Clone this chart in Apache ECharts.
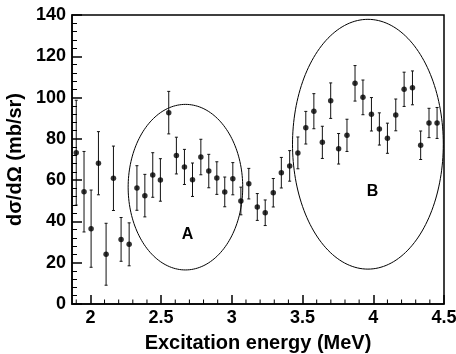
<!DOCTYPE html>
<html>
<head>
<meta charset="utf-8">
<script src="https://cdn.jsdelivr.net/npm/echarts@6/dist/echarts.min.js"></script>
<style>
  html, body { margin: 0; padding: 0; background: #fff; }
  .layer { position: absolute; left: 0; top: 0; width: 456px; height: 354px; }
  #frame { pointer-events: none; }
</style>
</head>
<body>
<div id="main" class="layer"></div>
<div id="frame" class="layer"></div>
<script>
  // excitation energy (MeV), one entry per measured bin
  var energy = [1.90, 1.955, 2.005, 2.057, 2.111, 2.163, 2.217, 2.274, 2.329, 2.385,
    2.441, 2.495, 2.554, 2.608, 2.665, 2.722, 2.781, 2.837, 2.894, 2.950,
    3.007, 3.064, 3.120, 3.180, 3.236, 3.293, 3.350, 3.409, 3.467, 3.523,
    3.580, 3.640, 3.699, 3.755, 3.814, 3.871, 3.927, 3.987, 4.043, 4.100,
    4.159, 4.218, 4.277, 4.335, 4.394, 4.451];
  // d sigma / d Omega (mb/sr)
  var xsec = [73.3, 54.4, 36.5, 68.2, 24.1, 60.9, 31.3, 28.9, 56.2, 52.5,
    62.5, 60.1, 92.7, 71.9, 66.4, 60.2, 71.2, 64.4, 61.0, 54.3,
    60.7, 49.9, 58.3, 47.0, 44.2, 53.9, 63.6, 66.9, 73.2, 85.4,
    93.4, 78.3, 98.5, 75.2, 81.7, 106.9, 100.1, 91.9, 84.8, 80.3,
    91.6, 104.0, 104.7, 76.9, 87.7, 87.7];
  // statistical error (+/-)
  var xsecErr = [25.4, 19.5, 18.7, 15.3, 15.0, 15.6, 10.6, 10.4, 10.8, 10.3,
    10.8, 10.3, 10.3, 8.9, 8.5, 8.1, 8.6, 8.1, 7.9, 7.2,
    7.8, 6.7, 7.4, 6.5, 6.2, 6.9, 7.4, 7.4, 7.7, 7.9,
    8.5, 7.8, 8.6, 7.4, 7.8, 8.6, 8.4, 8.1, 7.8, 7.3,
    7.7, 8.3, 8.2, 6.9, 7.1, 7.5];

  var xTickLabels = [2, 2.5, 3, 3.5, 4, 4.5];
  var xMinorTicks = [1.9, 2.1, 2.2, 2.3, 2.4, 2.6, 2.7, 2.8, 2.9, 3.1, 3.2, 3.3, 3.4,
    3.6, 3.7, 3.8, 3.9, 4.1, 4.2, 4.3, 4.4];

  // regions marked on the plot: [centre E, centre value, half-width E, half-height value]
  var regionNames = ['A', 'B'];
  var regionEllipse = [[2.672, 56.6, 0.405, 40.1], [3.962, 77.4, 0.533, 60.5]];
  var regionLabelAt = [[2.686, 33.4], [3.994, 54.4]];

  var FONT = 'Liberation Sans, Arial, Helvetica, sans-serif';
  var BLACK = '#000';
  var GRID = { left: 72, right: 12, top: 15, bottom: 50, outerBoundsMode: 'none' };
  var X_RANGE = { min: 1.87, max: 4.5 };
  var Y_RANGE = { min: 0, max: 140 };

  var points = energy.map(function (e, i) { return [e, xsec[i], xsecErr[i]]; });
  var regions = regionNames.map(function (n, i) {
    var r = regionEllipse[i];
    return [r[0], r[1], r[2], r[3], regionLabelAt[i][0], regionLabelAt[i][1], n];
  });

  // data layer: axis lines, labels, names, ellipses, error bars, points
  var chart = echarts.init(document.getElementById('main'));
  chart.setOption({
    animation: false,
    backgroundColor: 'transparent',
    grid: GRID,
    xAxis: {
      type: 'value', min: X_RANGE.min, max: X_RANGE.max,
      axisLine: { show: true, onZero: false, lineStyle: { color: BLACK, width: 1.5 } },
      axisTick: { show: false },
      axisLabel: { customValues: xTickLabels, color: BLACK, fontSize: 18, fontWeight: 'bold', fontFamily: FONT, margin: 5 },
      splitLine: { show: false },
      name: 'Excitation energy (MeV)', nameLocation: 'middle', nameGap: 29,
      nameTextStyle: { color: BLACK, fontSize: 20, fontWeight: 'bold', fontFamily: FONT }
    },
    yAxis: {
      type: 'value', min: Y_RANGE.min, max: Y_RANGE.max, interval: 20,
      axisLine: { show: true, onZero: false, lineStyle: { color: BLACK, width: 1.5 } },
      axisTick: { show: false },
      axisLabel: { color: BLACK, fontSize: 18, fontWeight: 'bold', fontFamily: FONT, margin: 6 },
      splitLine: { show: false },
      name: 'd\u03c3/d\u03a9 (mb/sr)', nameLocation: 'middle', nameGap: 43,
      nameTextStyle: { color: BLACK, fontSize: 20, fontWeight: 'bold', fontFamily: FONT }
    },
    series: [{
      type: 'custom',
      data: regions,
      encode: { x: 0, y: 1 },
      silent: true,
      renderItem: function (params, api) {
        var c = api.coord([api.value(0), api.value(1)]);
        var s = api.size([api.value(2), api.value(3)]);
        var pts = [];
        for (var k = 0; k <= 180; k++) {
          var a = k / 180 * Math.PI * 2;
          pts.push([c[0] + s[0] * Math.cos(a), c[1] + s[1] * Math.sin(a)]);
        }
        var lp = api.coord([api.value(4), api.value(5)]);
        return {
          type: 'group',
          children: [{
            type: 'polygon', shape: { points: pts },
            style: { fill: 'none', stroke: BLACK, lineWidth: 1 }
          }, {
            type: 'text', x: lp[0], y: lp[1],
            style: { text: api.value(6), fill: BLACK, font: 'bold 16px ' + FONT, align: 'center', verticalAlign: 'middle' }
          }]
        };
      }
    }, {
      type: 'custom',
      data: points,
      encode: { x: 0, y: 1 },
      silent: true,
      renderItem: function (params, api) {
        var e = api.value(0), v = api.value(1), d = api.value(2);
        var hi = api.coord([e, v + d]);
        var lo = api.coord([e, v - d]);
        var st = { stroke: '#111', lineWidth: 1 };
        return {
          type: 'group',
          children: [
            { type: 'line', shape: { x1: hi[0], y1: hi[1], x2: lo[0], y2: lo[1] }, style: st },
            { type: 'line', shape: { x1: hi[0] - 1.5, y1: hi[1], x2: hi[0] + 1.5, y2: hi[1] }, style: st },
            { type: 'line', shape: { x1: lo[0] - 1.5, y1: lo[1], x2: lo[0] + 1.5, y2: lo[1] }, style: st }
          ]
        };
      }
    }, {
      type: 'scatter',
      data: points,
      symbol: 'circle',
      symbolSize: 5.5,
      itemStyle: { color: BLACK },
      silent: true
    }]
  });

  // frame layer: box and inward ticks on the same scales
  var frame = echarts.init(document.getElementById('frame'));
  frame.setOption({
    animation: false,
    backgroundColor: 'transparent',
    grid: { left: GRID.left, right: GRID.right, top: GRID.top, bottom: GRID.bottom, outerBoundsMode: 'none',
      show: true, borderColor: BLACK, borderWidth: 1.5 },
    xAxis: {
      type: 'value', min: X_RANGE.min, max: X_RANGE.max,
      axisLine: { show: false },
      axisTick: { show: true, inside: true, length: 9, customValues: xTickLabels, lineStyle: { color: BLACK, width: 1.5 } },
      axisLabel: { show: false },
      splitLine: { show: false }
    },
    yAxis: {
      type: 'value', min: Y_RANGE.min, max: Y_RANGE.max, interval: 20,
      axisLine: { show: false },
      axisTick: { show: true, inside: true, length: 10, lineStyle: { color: BLACK, width: 1.5 } },
      minorTick: { show: true, splitNumber: 5, length: 5, lineStyle: { color: BLACK, width: 1 } },
      axisLabel: { show: false },
      splitLine: { show: false }
    },
    series: [{
      type: 'custom',
      data: xMinorTicks.map(function (v) { return [v, 0]; }),
      encode: { x: 0, y: 1 },
      silent: true,
      renderItem: function (params, api) {
        var p = api.coord([api.value(0), 0]);
        return { type: 'line', shape: { x1: p[0], y1: p[1], x2: p[0], y2: p[1] - 4.5 }, style: { stroke: BLACK, lineWidth: 1 } };
      }
    }]
  });
</script>
</body>
</html>
